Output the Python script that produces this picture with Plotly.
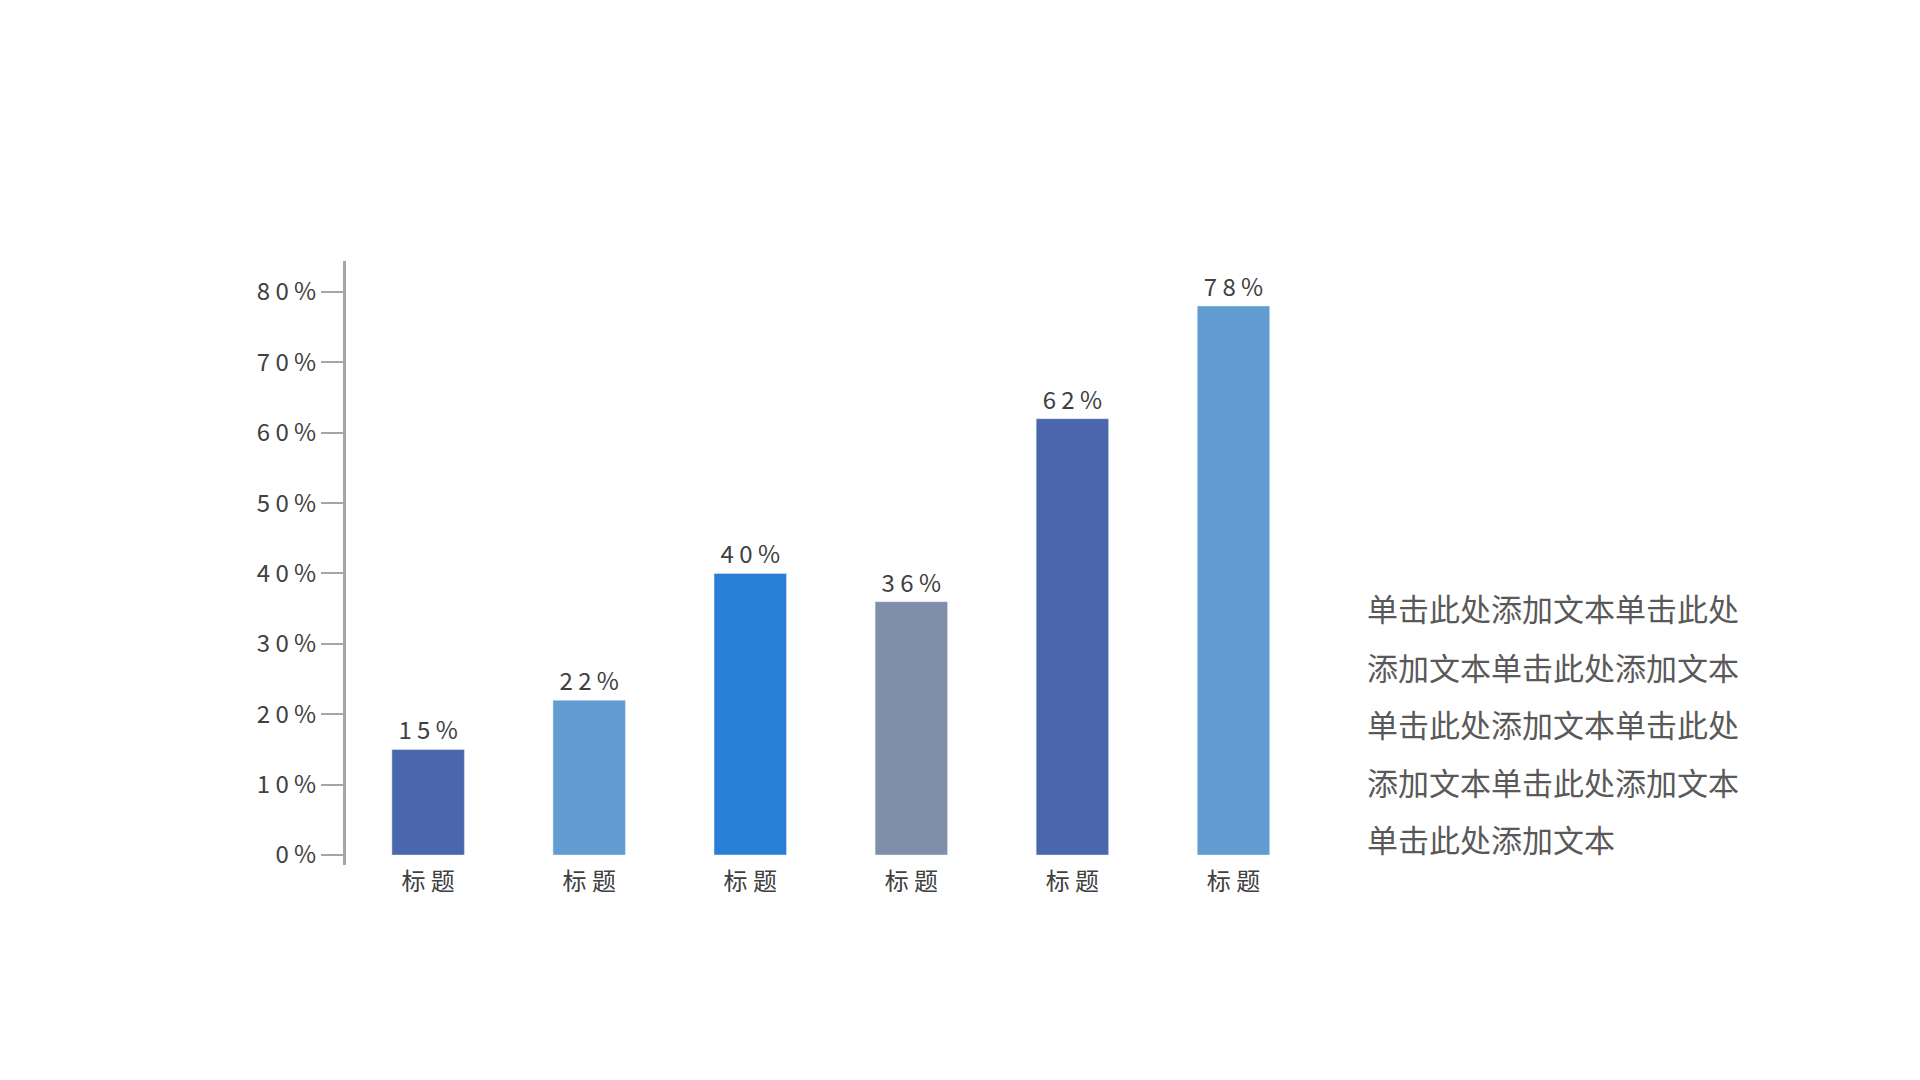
import plotly.graph_objects as go

categories = ["标 题"] * 6
values = [15, 22, 40, 36, 62, 78]
bar_colors = ["#4A66AC", "#629DD1", "#297FD5", "#7F8FA9", "#4A66AC", "#629DD1"]
tick_vals = [0, 10, 20, 30, 40, 50, 60, 70, 80]
tick_text = [" ".join(f"{v}%") for v in tick_vals]
body_lines = [
    "单击此处添加文本单击此处",
    "添加文本单击此处添加文本",
    "单击此处添加文本单击此处",
    "添加文本单击此处添加文本",
    "单击此处添加文本",
]

FONT = "Noto Sans CJK SC"
xs = list(range(len(values)))

fig = go.Figure(go.Bar(
    x=xs,
    y=values,
    width=0.45,
    marker_color=bar_colors,
    text=[" ".join(f"{v}%") for v in values],
    textposition="outside",
    textfont=dict(size=24, color="#404040", family=FONT),
    cliponaxis=False,
))

fig.update_xaxes(
    range=[-0.51, 5.5],
    tickvals=xs,
    ticktext=categories,
    tickfont=dict(size=24, color="#404040", family=FONT),
    showline=False, showgrid=False, zeroline=False, ticks="",
)
fig.update_yaxes(
    range=[-1.42, 84.4],
    tickvals=tick_vals,
    ticktext=tick_text,
    tickfont=dict(size=24, color="#404040", family=FONT),
    showline=True, linecolor="#A6A6A6", linewidth=3,
    ticks="outside", ticklen=22, tickcolor="#A6A6A6", tickwidth=1.5,
    showgrid=False, zeroline=False,
)

# text block on the right, one annotation per line
line_y = [35.1, 26.8, 18.7, 10.5, 2.4]
for txt, yy in zip(body_lines, line_y):
    fig.add_annotation(
        text=txt, xref="paper", x=1.0527, xanchor="left",
        yref="y", y=yy, yanchor="middle", showarrow=False,
        font=dict(size=31, color="#595959", family=FONT),
    )

fig.update_layout(
    width=1920, height=1080,
    margin=dict(l=338, r=614, t=253, b=223),
    plot_bgcolor="white", paper_bgcolor="white",
    showlegend=False,
    font=dict(family=FONT),
)

fig.write_html("out.html")
